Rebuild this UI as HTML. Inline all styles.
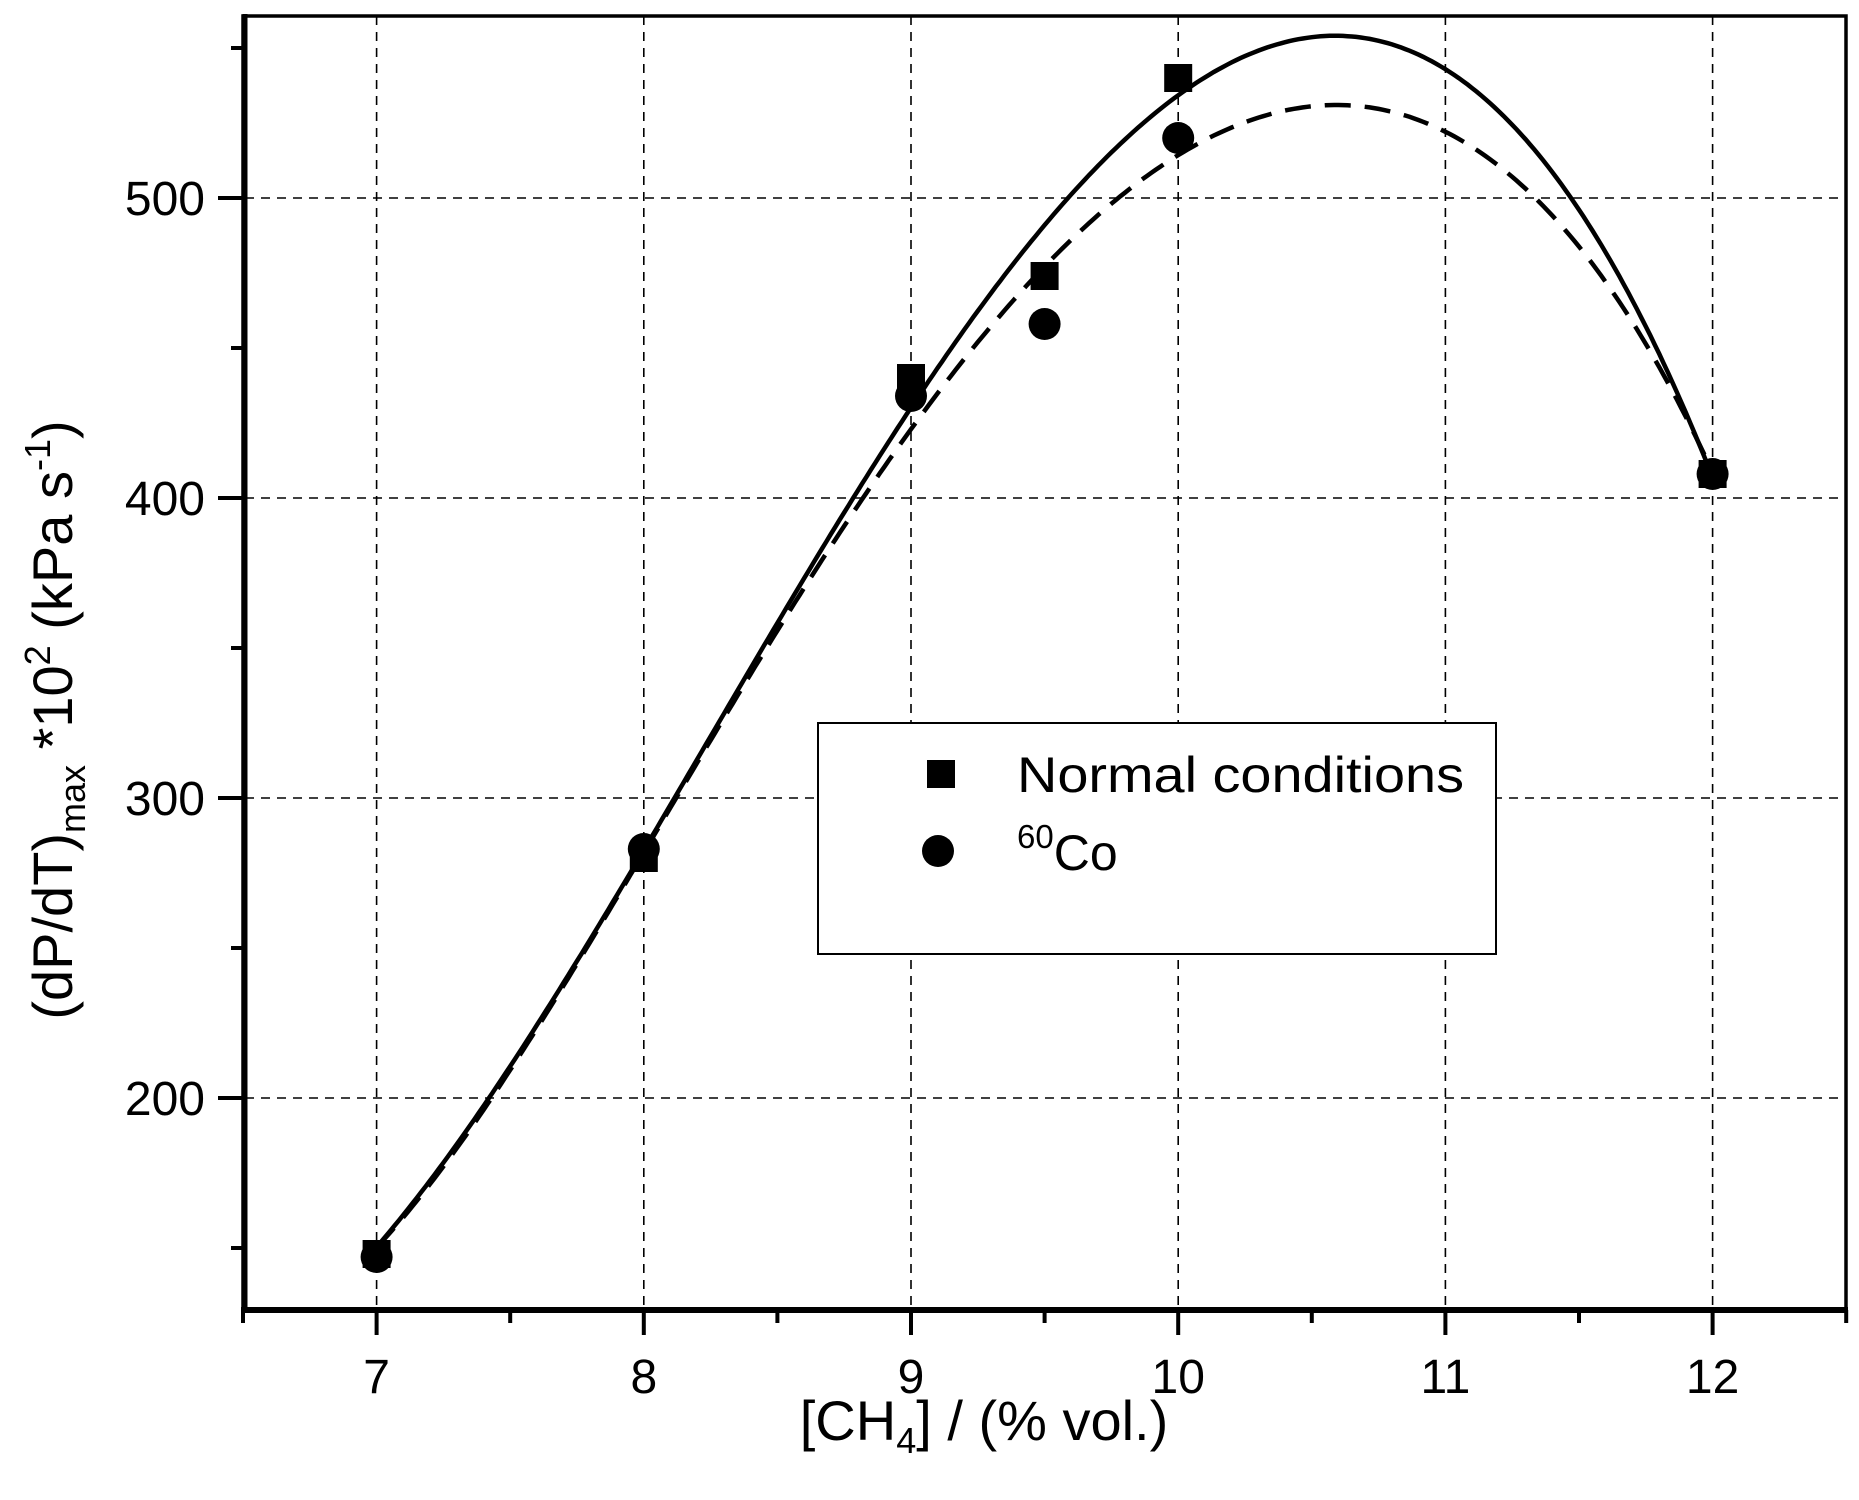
<!DOCTYPE html><html><head><style>body{margin:0;background:#fff}svg{display:block}text{font-family:"Liberation Sans",Arial,sans-serif;fill:#000}</style></head><body>
<svg id="s" width="1859" height="1500" xmlns="http://www.w3.org/2000/svg">
<g id="grid" stroke="#000" stroke-width="1.6" stroke-dasharray="9,7"></g>
<path id="solid" fill="none" stroke="#000" stroke-width="4.5"/>
<path id="dash" fill="none" stroke="#000" stroke-width="4.5" stroke-dasharray="26,14"/>
<g id="pts"></g>
<rect x="243" y="16" width="1603" height="1294" fill="none" stroke="#000" stroke-width="3.5"/>
<line x1="241" y1="1310" x2="1848" y2="1310" stroke="#000" stroke-width="6"/>
<line x1="245" y1="14" x2="245" y2="1312" stroke="#000" stroke-width="5"/>
<g id="ticks" stroke="#000" stroke-width="4"></g>
<g id="lbl" font-size="48"></g>
<rect x="818" y="723" width="678" height="231" fill="#fff" stroke="#000" stroke-width="2"/>
<rect x="927" y="760" width="28" height="28" fill="#000"/>
<circle cx="938" cy="851" r="16" fill="#000"/>
<text x="1017" y="792" font-size="50" textLength="447" lengthAdjust="spacingAndGlyphs">Normal conditions</text>
<text x="1017" y="870" font-size="50"><tspan font-size="33" dy="-22">60</tspan><tspan dy="22">Co</tspan></text>
<text x="984" y="1440" font-size="56" text-anchor="middle">[CH<tspan font-size="36" dy="13">4</tspan><tspan dy="-13">] / (% vol.)</tspan></text>
<text transform="translate(72,720) rotate(-90)" font-size="56" text-anchor="middle">(dP/dT)<tspan font-size="36" dy="13">max</tspan><tspan dy="-13"> *10</tspan><tspan font-size="36" dy="-22">2</tspan><tspan dy="22"> (kPa s</tspan><tspan font-size="36" dy="-22">-1</tspan><tspan dy="22">)</tspan></text>
</svg>
<script>
const X=v=>376.6+(v-7)*267.2, Y=v=>198+(500-v)*3;
const ns="http://www.w3.org/2000/svg";
function el(p,t,a){const e=document.createElementNS(ns,t);for(const k in a)e.setAttribute(k,a[k]);document.getElementById(p).appendChild(e);return e;}
for(let v=7;v<=12;v++){el('grid','line',{x1:X(v),y1:16,x2:X(v),y2:1310});}
for(let v=200;v<=500;v+=100){el('grid','line',{x1:245,y1:Y(v),x2:1846,y2:Y(v)});}
for(let v=6.5;v<=12.51;v+=0.5){const maj=Math.abs(v-Math.round(v))<0.01;el('ticks','line',{x1:X(v),y1:1310,x2:X(v),y2:1310+(maj?25:13)});
 if(maj){const t=el('lbl','text',{x:X(v),y:1393,'text-anchor':'middle'});t.textContent=v;}}
for(let v=150;v<=550;v+=50){const maj=v%100==0;el('ticks','line',{x1:245,y1:Y(v),x2:245-(maj?27:14),y2:Y(v)});
 if(maj){const t=el('lbl','text',{x:205,y:Y(v)+17,'text-anchor':'end'});t.textContent=v;}}
function fit(pts,deg){const n=deg+1,A=[],b=[];for(let i=0;i<n;i++){A.push(new Array(n).fill(0));b.push(0);}
 pts.forEach(([x,y])=>{const t=x-9.5;for(let i=0;i<n;i++){b[i]+=y*Math.pow(t,i);for(let j=0;j<n;j++)A[i][j]+=Math.pow(t,i+j);}});
 for(let i=0;i<n;i++){let m=i;for(let k=i+1;k<n;k++)if(Math.abs(A[k][i])>Math.abs(A[m][i]))m=k;[A[i],A[m]]=[A[m],A[i]];[b[i],b[m]]=[b[m],b[i]];
  for(let k=i+1;k<n;k++){const f=A[k][i]/A[i][i];for(let j=i;j<n;j++)A[k][j]-=f*A[i][j];b[k]-=f*b[i];}}
 const c=new Array(n);for(let i=n-1;i>=0;i--){let s=b[i];for(let j=i+1;j<n;j++)s-=A[i][j]*c[j];c[i]=s/A[i][i];}
 let d="";for(let k=0;k<=300;k++){const x=7+5*k/300,t=x-9.5;let y=0;for(let i=0;i<n;i++)y+=c[i]*Math.pow(t,i);d+=(k?"L":"M")+X(x).toFixed(1)+","+Y(y).toFixed(1);}return d;}
document.getElementById('solid').setAttribute('d',fit([[7,150],[7.5,212],[8,281],[8.5,358],[9,432],[9.5,490],[10,534],[10.25,548],[10.61,553],[11,544],[11.33,515],[11.47,500],[11.61,482],[11.76,456],[11.9,426],[12,408]],5));
document.getElementById('dash').setAttribute('d',fit([[7,150],[7.5,210],[8,281],[8.5,356],[9,423],[9.5,478],[10,513],[10.22,525],[10.51,530],[10.78,529],[11.02,522],[11.22,509],[11.39,496],[11.55,478],[11.68,460],[11.81,442],[11.93,423],[12,408]],5));
[[7,148],[8,280],[9,440],[9.5,474],[10,540],[12,408]].forEach(a=>el('pts','rect',{x:X(a[0])-14,y:Y(a[1])-14,width:28,height:28,fill:'#000'}));
[[7,147],[8,283],[9,434],[9.5,458],[10,520],[12,408]].forEach(a=>el('pts','circle',{cx:X(a[0]),cy:Y(a[1]),r:16,fill:'#000'}));
</script>
</body></html>
